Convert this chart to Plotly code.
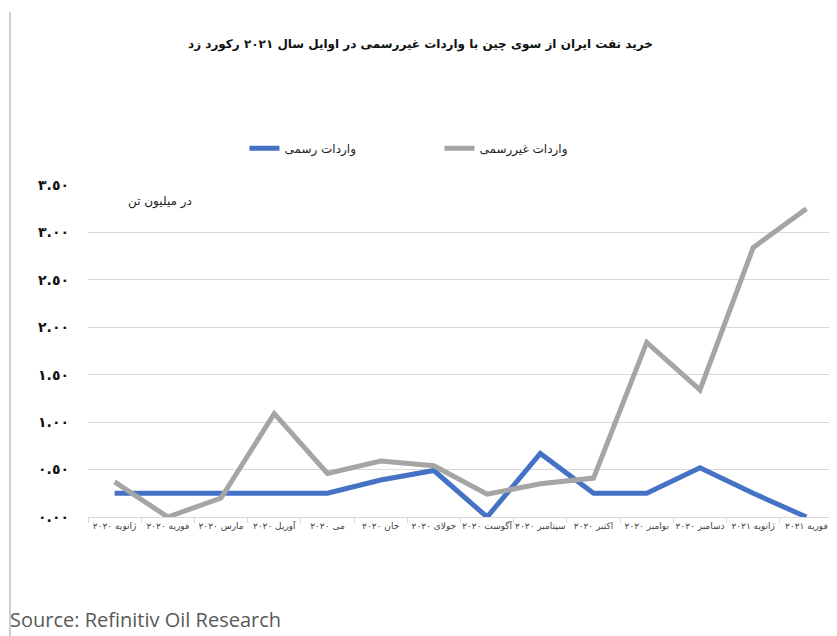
import plotly.graph_objects as go

categories = ["ژانویه ۲۰۲۰", "فوریه ۲۰۲۰", "مارس ۲۰۲۰", "آوریل ۲۰۲۰", "می ۲۰۲۰", "جان ۲۰۲۰",
              "جولای ۲۰۲۰", "آگوست ۲۰۲۰", "سپتامبر ۲۰۲۰", "اکتبر ۲۰۲۰", "نوامبر ۲۰۲۰",
              "دسامبر ۲۰۲۰", "ژانویه ۲۰۲۱", "فوریه ۲۰۲۱"]
official = [0.25, 0.25, 0.25, 0.25, 0.25, 0.39, 0.49, 0.0, 0.67, 0.25, 0.25, 0.52, 0.25, 0.0]
unofficial = [0.37, 0.0, 0.20, 1.09, 0.46, 0.59, 0.54, 0.24, 0.35, 0.41, 1.84, 1.34, 2.84, 3.25]
ytick_vals = [0, 0.5, 1.0, 1.5, 2.0, 2.5, 3.0, 3.5]
ytick_text = ["٠.٠٠", "٠.٥٠", "١.٠٠", "١.٥٠", "٢.٠٠", "٢.٥٠", "٣.٠٠", "٣.٥٠"]

name_official = "واردات رسمی"
name_unofficial = "واردات غیررسمی"
title_text = "خرید نفت ایران از سوی چین با واردات غیررسمی در اوایل سال ۲۰۲۱ رکورد زد"
unit_text = "در میلیون تن"
source_text = "Source: Refinitiv Oil Research"

fa_font = "DejaVu Sans"

fig = go.Figure()
fig.add_trace(go.Scatter(x=categories, y=official, mode="lines", name=name_official,
                         line=dict(color="#4472C4", width=5), cliponaxis=False))
fig.add_trace(go.Scatter(x=categories, y=unofficial, mode="lines", name=name_unofficial,
                         line=dict(color="#A5A5A5", width=5), cliponaxis=False))

fig.update_layout(
    width=829, height=628,
    margin=dict(l=80, r=4, t=177, b=119),
    paper_bgcolor="white", plot_bgcolor="white",
    font=dict(family=fa_font, color="#222"),
    showlegend=True,
    legend=dict(orientation="h", x=0.21, y=1.111, xanchor="left", yanchor="middle",
                entrywidth=150, entrywidthmode="pixels",
                font=dict(size=12, color="#222", family=fa_font), traceorder="normal"),
    xaxis=dict(type="category", showgrid=False, showline=True, linecolor="#d9d9d9",
               ticks="outside", tickson="boundaries", ticklen=5, tickcolor="#d9d9d9",
               tickfont=dict(size=9, color="#444", family=fa_font), tickangle=0,
               range=[-0.5, 13.5]),
    yaxis=dict(range=[0, 3.5], tickvals=ytick_vals,
               ticktext=["\u200e" + t for t in ytick_text],
               showgrid=True, gridcolor="#d9d9d9", gridwidth=1, zeroline=False,
               showline=False, ticklabelstandoff=18,
               tickfont=dict(size=14, color="#111", family=fa_font, weight="bold")),
    annotations=[
        dict(text="<b>" + title_text + "</b>", xref="paper", yref="paper", x=0.446, y=1.422,
             yanchor="middle", showarrow=False,
             font=dict(size=12, color="#111", family=fa_font)),
        dict(text=unit_text, xref="paper", yref="paper", x=0.051, y=0.949,
             yanchor="middle", showarrow=False,
             font=dict(size=12, color="#222", family=fa_font)),
        dict(text=source_text, xref="paper", yref="paper", x=-0.108, y=-0.31,
             xanchor="left", yanchor="middle", showarrow=False,
             font=dict(size=20, color="#595959", family="Open Sans")),
    ],
    shapes=[
        dict(type="line", xref="paper", yref="paper", x0=-0.1047, x1=-0.1047,
             y0=1.52, y1=-0.36, line=dict(color="#bfbfbf", width=1.5)),
    ],
)

fig.write_html("out.html")
